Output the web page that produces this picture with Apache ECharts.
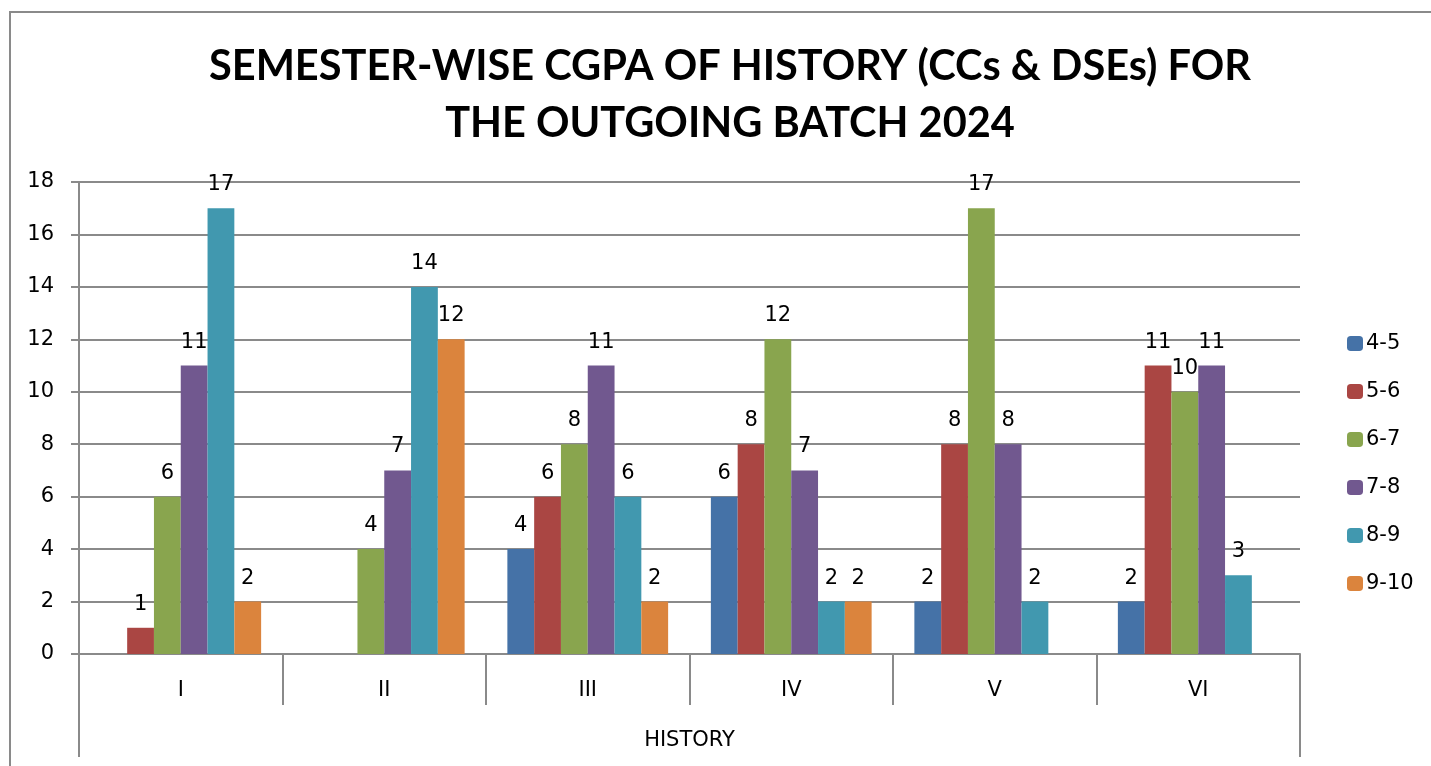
<!DOCTYPE html>
<html>
<head>
<meta charset="utf-8">
<script src="https://cdn.jsdelivr.net/npm/echarts@6/dist/echarts.min.js"></script>
<style>html,body{margin:0;padding:0;background:#fff;}#c{width:1431px;height:766px;}</style>
</head>
<body>
<div id="c"></div>
<script>
const categories = ['I', 'II', 'III', 'IV', 'V', 'VI'];
const groupLabel = ['HISTORY'];
const seriesNames = ['4-5', '5-6', '6-7', '7-8', '8-9', '9-10'];
const s45 = [0, 0, 4, 6, 2, 2];
const s56 = [1, 0, 6, 8, 8, 11];
const s67 = [6, 4, 8, 12, 17, 10];
const s78 = [11, 7, 11, 7, 8, 11];
const s89 = [17, 14, 6, 2, 2, 3];
const s910 = [2, 12, 2, 2, 0, 0];
const yTicks = [0, 2, 4, 6, 8, 10, 12, 14, 16, 18];

const colors = ['#4572A7', '#AA4643', '#89A54E', '#71588F', '#4198AF', '#DB843D'];
const values = [s45, s56, s67, s78, s89, s910];
const F = 'DejaVu Sans';
const gray = '#8a8a8a';

const chart = echarts.init(document.getElementById('c'));
chart.setOption({
  animation: false,
  color: colors,
  title: {
    text: 'SEMESTER-WISE CGPA OF HISTORY (CCs & DSEs) FOR\nTHE OUTGOING BATCH 2024',
    left: 725, textAlign: 'center', top: 33,
    textStyle: { fontFamily: 'Lato', fontWeight: 'bold', fontSize: 41.5, lineHeight: 57, color: '#000' }
  },
  graphic: [{
    type: 'rect', shape: { x: 10, y: 12, width: 1500, height: 800 },
    style: { fill: 'none', stroke: gray, lineWidth: 2 }, silent: true, z: -1
  }],
  legend: {
    orient: 'vertical', left: 1342, top: 328,
    itemWidth: 16, itemHeight: 15, itemGap: 27,
    data: seriesNames,
    textStyle: { fontFamily: F, fontSize: 21, lineHeight: 21, color: '#000', padding: [0, 0, 0, -2] }
  },
  grid: { left: 79, right: 131, top: 182, bottom: 112 },
  xAxis: [{
    type: 'category', data: categories, position: 'bottom',
    axisLine: { show: true, lineStyle: { color: gray, width: 2 } },
    axisTick: { show: true, length: 51, lineStyle: { color: gray, width: 2 } },
    axisLabel: { fontFamily: F, fontSize: 21, color: '#000', margin: 26 }
  }, {
    type: 'category', data: groupLabel, position: 'bottom', offset: 51,
    axisLine: { show: false },
    axisTick: { show: true, length: 52, lineStyle: { color: gray, width: 2 } },
    axisLabel: { fontFamily: F, fontSize: 21, color: '#000', margin: 25 }
  }],
  yAxis: {
    type: 'value', min: 0, max: 18, interval: 2,
    axisLine: { show: true, lineStyle: { color: gray, width: 2 } },
    axisTick: { show: true, length: 8, lineStyle: { color: gray, width: 2 } },
    splitLine: { lineStyle: { color: gray, width: 2 } },
    axisLabel: { fontFamily: F, fontSize: 21, color: '#000', margin: 25,
      formatter: v => yTicks.includes(v) ? String(v) : '' }
  },
  series: seriesNames.map((n, i) => ({
    name: n, type: 'bar', data: values[i],
    barGap: '0%', barCategoryGap: '21%',
    itemStyle: { color: colors[i], borderWidth: 0 },
    label: { show: true, position: 'top', distance: 13, fontFamily: F, fontSize: 21, color: '#000',
      formatter: p => p.value ? String(p.value) : '' }
  }))
});
</script>
</body>
</html>
